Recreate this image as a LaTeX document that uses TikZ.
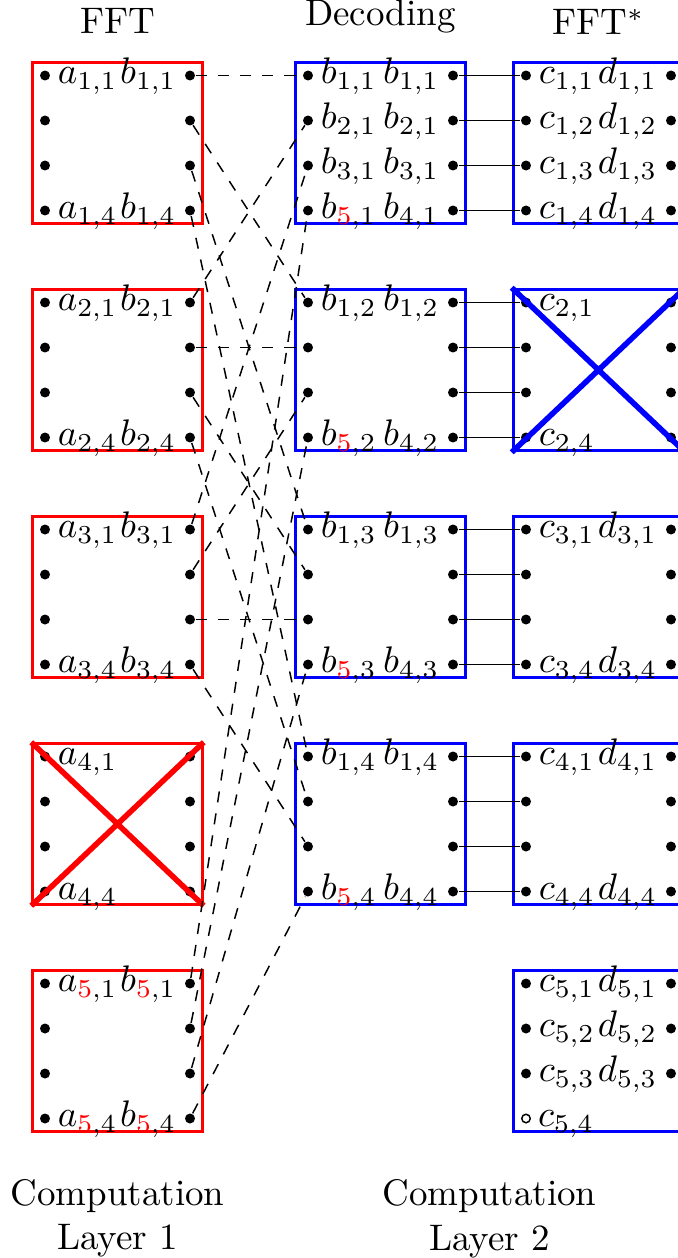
\documentclass[tikz,border=0pt]{standalone}
\usetikzlibrary{positioning, calc}

\begin{document}
\begin{tikzpicture}[x=0.0095cm, y=-0.0095cm,
    dot/.style={circle, fill, inner sep=0pt, minimum size=2.7pt},
    hole/.style={circle, draw, fill=white, line width=0.4pt, inner sep=0pt, minimum size=2.3pt},
    blk/.style={rectangle, minimum width=1.615cm, minimum height=1.53cm},
    fftblk/.style={blk, draw=red, line width=0.7pt},
    decblk/.style={blk, draw=blue, line width=1pt},
    lost/.style={line width=1.5pt},
    labl/.style={inner sep=1.7pt, anchor=mid west, font=\fontsize{9.7pt}{11.5pt}\selectfont},
    labr/.style={inner sep=2pt, anchor=mid east, font=\fontsize{9.7pt}{11.5pt}\selectfont},
    caption/.style={align=center},
  ]
    \useasboundingbox (0,0) rectangle (677,1258);

    % layer 1 (FFT), decoding, FFT*
    \foreach \k in {1,...,5} {
      \node[fftblk] (L\k) at (117.5, {143+227*(\k-1)}) {};
      \foreach \r in {1,...,4} {
        \node[dot] (L\k-a\r) at (45,  {75.5+227*(\k-1)+45*(\r-1)}) {};
        \node[dot] (L\k-b\r) at (190, {75.5+227*(\k-1)+45*(\r-1)}) {};
      }
    }
    \foreach \k in {1,...,4} {
      \node[decblk] (M\k) at (380.5, {143+227*(\k-1)}) {};
      \node[decblk] (R\k) at (598.5, {143+227*(\k-1)}) {};
      \foreach \r in {1,...,4} {
        \node[dot] (M\k-a\r) at (308, {75.5+227*(\k-1)+45*(\r-1)}) {};
        \node[dot] (M\k-b\r) at (453, {75.5+227*(\k-1)+45*(\r-1)}) {};
        \node[dot] (R\k-a\r) at (526, {75.5+227*(\k-1)+45*(\r-1)}) {};
        \node[dot] (R\k-b\r) at (671, {75.5+227*(\k-1)+45*(\r-1)}) {};
      }
    }
    \node[decblk] (R5) at (598.5, 1051) {};
    \foreach \r in {1,2,3} {
      \node[dot] (R5-a\r) at (526, {983.5+45*(\r-1)}) {};
      \node[dot] (R5-b\r) at (671, {983.5+45*(\r-1)}) {};
    }
    \node[hole] (R5-a4) at (526, 1118.5) {};

    % labels
    \foreach \k/\s in {1/1,2/2,3/3,5/\textcolor{red}{5}}
      \foreach \r in {1,4} {
        \node[labl] (L\k-a\r-t) at (L\k-a\r.east) {$a_{\s,\r}$};
        \node[labr] (L\k-b\r-t) at (L\k-b\r.west) {$b_{\s,\r}$};
      }
    \node[labl] (L4-a1-t) at (L4-a1.east) {$a_{4,1}$};
    \node[labl] (L4-a4-t) at (L4-a4.east) {$a_{4,4}$};

    \foreach \k in {1,...,4} {
      \node[labl] (M\k-a1-t) at (M\k-a1.east) {$b_{1,\k}$};
      \node[labr] (M\k-b1-t) at (M\k-b1.west) {$b_{1,\k}$};
      \node[labl] (M\k-a4-t) at (M\k-a4.east) {$b_{\textcolor{red}{5},\k}$};
      \node[labr] (M\k-b4-t) at (M\k-b4.west) {$b_{4,\k}$};
    }
    \foreach \r in {2,3} {
      \node[labl] (M1-a\r-t) at (M1-a\r.east) {$b_{\r,1}$};
      \node[labr] (M1-b\r-t) at (M1-b\r.west) {$b_{\r,1}$};
    }

    \foreach \k/\r in {1/1,1/2,1/3,1/4,3/1,3/4,4/1,4/4,5/1,5/2,5/3} {
      \node[labl] (R\k-a\r-t) at (R\k-a\r.east) {$c_{\k,\r}$};
      \node[labr] (R\k-b\r-t) at (R\k-b\r.west) {$d_{\k,\r}$};
    }
    \node[labl] (R2-a1-t) at (R2-a1.east) {$c_{2,1}$};
    \node[labl] (R2-a4-t) at (R2-a4.east) {$c_{2,4}$};
    \node[labl] (R5-a4-t) at (R5-a4.east) {$c_{5,4}$};

    % failed nodes
    \draw[red, lost] (L4.north west) -- (L4.south east) (L4.south west) -- (L4.north east);
    \draw[blue, lost] (R2.north west) -- (R2.south east) (R2.south west) -- (R2.north east);

    % shuffle and links
    \foreach \i/\m in {1/1,2/2,3/3,5/4}
      \foreach \j in {1,...,4}
        \draw[dashed] (L\i-b\j) -- (M\j-a\m);
    \foreach \k in {1,...,4}
      \foreach \r in {1,...,4}
        \draw (M\k-b\r) -- (R\k-a\r);

    % titles
    \node[above=4pt of L1] (t1) {FFT};
    \node[above=4pt of M1] (t2) {Decoding};
    \node[above=3.5pt of R1] (t3) {FFT$^*$};

    \node[caption, below=9pt of L5] (c1) {Computation\\Layer 1};
    \coordinate (c2x) at ($(M4.south)!0.5!(R4.south)$);
    \coordinate (c2y) at (c2x |- R5.south);
    \node[caption, below=9pt of c2y] (c2) {Computation\\Layer 2};
  \end{tikzpicture}
\end{document}
